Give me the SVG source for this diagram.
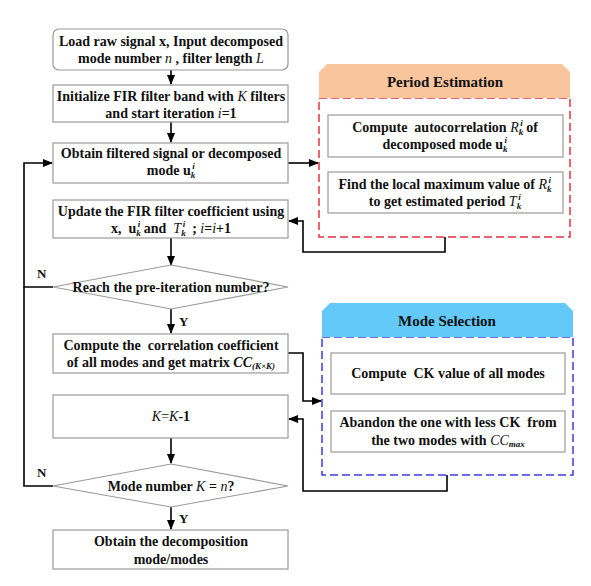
<svg xmlns="http://www.w3.org/2000/svg" width="591" height="586" viewBox="0 0 591 586">
<defs>
<style>
.box{fill:#fff;stroke:#9a9a9a;stroke-width:1.2}
.t{font-family:"Liberation Serif","Times New Roman",serif;font-weight:bold;font-size:14px;fill:#111;text-anchor:middle}
.h{font-family:"Liberation Serif","Times New Roman",serif;font-weight:bold;font-size:15px;fill:#111;text-anchor:middle}
.it{font-style:italic;font-weight:normal}
.bi{font-style:italic;font-weight:bold}
.s{font-size:9px;font-style:italic}
.con{fill:none;stroke:#000;stroke-width:1.6}
.lab{font-family:"Liberation Serif","Times New Roman",serif;font-weight:bold;font-size:13px;fill:#111}
</style>
<marker id="ah" markerWidth="10" markerHeight="8" refX="9" refY="4" orient="auto" markerUnits="userSpaceOnUse">
<path d="M0,0 L10,4 L0,8 Z" fill="#000"/>
</marker>
</defs>
<rect width="591" height="586" fill="#fff"/>

<g id="connectors">
<line class="con" x1="171" y1="70" x2="171" y2="84" marker-end="url(#ah)"/>
<line class="con" x1="171" y1="122" x2="171" y2="142" marker-end="url(#ah)"/>
<line class="con" x1="171" y1="238" x2="171" y2="265" marker-end="url(#ah)"/>
<line class="con" x1="171" y1="309" x2="171" y2="333" marker-end="url(#ah)"/>
<line class="con" x1="171" y1="438" x2="171" y2="463" marker-end="url(#ah)"/>
<line class="con" x1="171" y1="507" x2="171" y2="529" marker-end="url(#ah)"/>
<line class="con" x1="288" y1="163" x2="318" y2="163" marker-end="url(#ah)"/>
<polyline class="con" points="445,237 445,252 303,252 303,221 289,221" marker-end="url(#ah)"/>
<polyline class="con" points="288,353 303,353 303,401 321,401" marker-end="url(#ah)"/>
<polyline class="con" points="447,475 447,491 303,491 303,419 289,419" marker-end="url(#ah)"/>
<polyline class="con" points="53,287 24,287 24,163 52,163" marker-end="url(#ah)"/>
<polyline class="con" points="53,486 24,486 24,287"/>
<text class="lab" x="37" y="278">N</text>
<text class="lab" x="37" y="477">N</text>
<text class="lab" x="179" y="326">Y</text>
<text class="lab" x="179" y="523">Y</text>
</g>

<g id="n1">
<rect class="box" x="53" y="29" width="235" height="41" rx="6"/>
<text class="t" x="171" y="46">Load raw signal x, Input decomposed</text>
<text class="t" x="171" y="63">mode number <tspan class="it">n</tspan> , filter length <tspan class="it">L</tspan></text>
</g>

<g id="n2">
<rect class="box" x="53" y="85" width="235" height="37"/>
<text class="t" x="171" y="101">Initialize FIR filter band with <tspan class="it">K</tspan> filters</text>
<text class="t" x="171" y="118">and start iteration <tspan class="it">i</tspan>=1</text>
</g>

<g id="n3">
<rect class="box" x="53" y="143" width="235" height="40"/>
<text class="t" x="171" y="158">Obtain filtered signal or decomposed</text>
<text class="t" x="171" y="175">mode u<tspan class="s" dy="3">k</tspan><tspan class="s" dx="-3" dy="-9">i</tspan><tspan dy="6"> </tspan></text>
</g>

<g id="n4">
<rect class="box" x="53" y="200" width="235" height="38"/>
<text class="t" x="171" y="216">Update the FIR filter coefficient using</text>
<text class="t" x="171" y="233" xml:space="preserve">x,  u<tspan class="s" dy="3">k</tspan><tspan class="s" dx="-3" dy="-9">i</tspan><tspan dy="6"> and  </tspan><tspan class="it">T</tspan><tspan class="s" dy="3">k</tspan><tspan class="s" dx="-3" dy="-9">i</tspan><tspan dy="6">  ; </tspan><tspan class="it">i</tspan>=<tspan class="it">i</tspan>+1</text>
</g>

<g id="d1">
<polygon class="box" points="53,287 171,265 288,287 171,309"/>
<text class="t" x="171" y="292">Reach the pre-iteration number?</text>
</g>

<g id="n5">
<rect class="box" x="53" y="334" width="235" height="39"/>
<text class="t" x="171" y="350" xml:space="preserve">Compute the  correlation coefficient</text>
<text class="t" x="171" y="367">of all modes and get matrix <tspan class="bi">CC</tspan><tspan class="s" font-size="8" dy="2">(K×K)</tspan></text>
</g>

<g id="n6">
<rect class="box" x="53" y="395" width="235" height="43"/>
<text class="t" x="171" y="421"><tspan class="it">K</tspan><tspan font-weight="normal">=</tspan><tspan class="it">K</tspan>-1</text>
</g>

<g id="d2">
<polygon class="box" points="53,486 171,464 288,486 171,507"/>
<text class="t" x="171" y="491">Mode number <tspan class="it">K</tspan> = <tspan class="it">n</tspan>?</text>
</g>

<g id="n7">
<rect class="box" x="53" y="530" width="235" height="39"/>
<text class="t" x="171" y="546">Obtain the decomposition</text>
<text class="t" x="171" y="564">mode/modes</text>
</g>

<g id="period">
<rect x="319" y="98" width="251" height="139" fill="none" stroke="#e8323c" stroke-width="1.5" stroke-dasharray="8,4"/>
<polygon points="319,72 327,64 562,64 570,72 570,98 319,98" fill="#f8c59d"/>
<text class="h" x="445" y="87">Period Estimation</text>
<g id="p1">
<rect class="box" x="328" y="115" width="235" height="42"/>
<text class="t" x="445" y="132" xml:space="preserve">Compute  autocorrelation <tspan class="it">R</tspan><tspan class="s" dy="3">k</tspan><tspan class="s" dx="-3" dy="-9">i</tspan><tspan dy="6"> of</tspan></text>
<text class="t" x="445" y="149">decomposed mode u<tspan class="s" dy="3">k</tspan><tspan class="s" dx="-3" dy="-9">i</tspan><tspan dy="6"> </tspan></text>
</g>
<g id="p2">
<rect class="box" x="328" y="172" width="235" height="41"/>
<text class="t" x="445" y="189">Find the local maximum value of <tspan class="it">R</tspan><tspan class="s" dy="3">k</tspan><tspan class="s" dx="-3" dy="-9">i</tspan><tspan dy="6"> </tspan></text>
<text class="t" x="445" y="206">to get estimated period <tspan class="it">T</tspan><tspan class="s" dy="3">k</tspan><tspan class="s" dx="-3" dy="-9">i</tspan><tspan dy="6"> </tspan></text>
</g>
</g>

<g id="mode">
<rect x="322" y="337" width="251" height="138" fill="none" stroke="#3b3be6" stroke-width="1.5" stroke-dasharray="8,4"/>
<polygon points="322,311 330,303 565,303 573,311 573,337 322,337" fill="#62c9f8"/>
<text class="h" x="447" y="326">Mode Selection</text>
<g id="m1">
<rect class="box" x="331" y="353" width="234" height="41"/>
<text class="t" x="448" y="378" xml:space="preserve">Compute  CK value of all modes</text>
</g>
<g id="m2">
<rect class="box" x="331" y="411" width="234" height="41"/>
<text class="t" x="448" y="427" xml:space="preserve">Abandon the one with less CK  from</text>
<text class="t" x="448" y="445">the two modes with <tspan class="it">CC</tspan><tspan class="s" dy="2">max</tspan></text>
</g>
</g>
</svg>
